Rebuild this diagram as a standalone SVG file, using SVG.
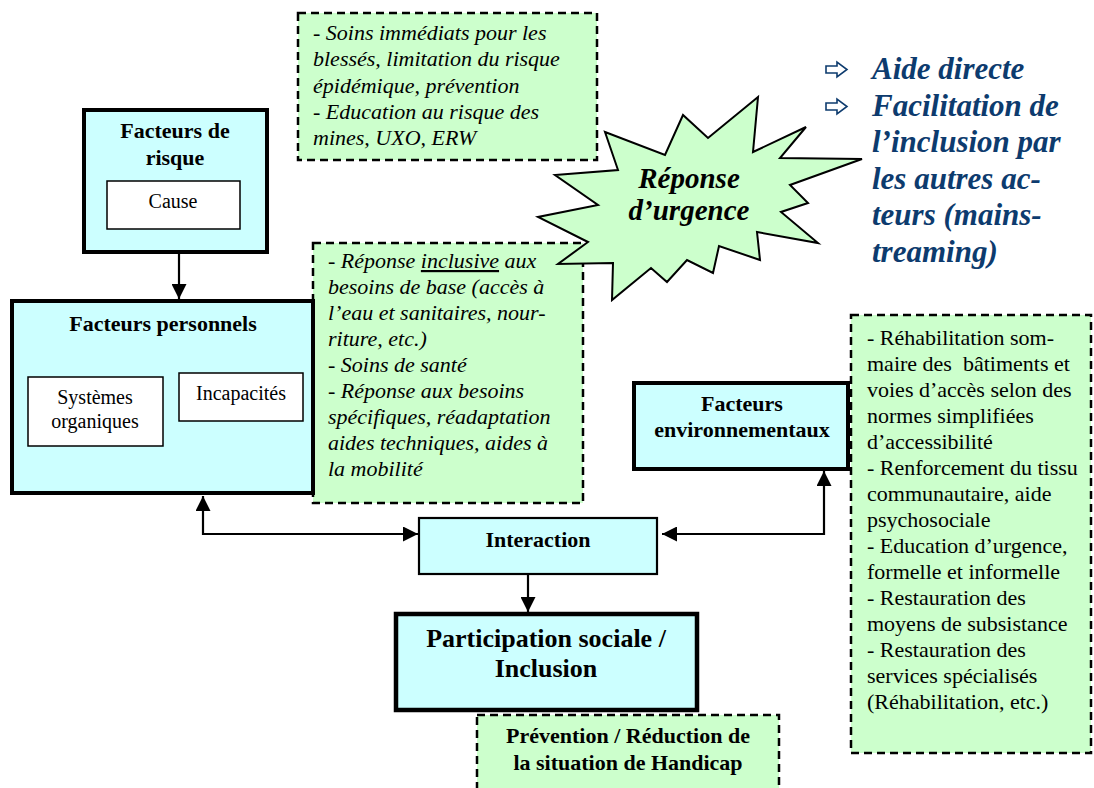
<svg xmlns="http://www.w3.org/2000/svg" width="1094" height="788" viewBox="0 0 1094 788" font-family="'Liberation Serif', Tinos, 'Times New Roman', 'DejaVu Serif', serif">
<style>
text{font-family:'Liberation Serif', Tinos, 'Times New Roman', 'DejaVu Serif', serif;fill:#000}
.b{font-weight:bold}
.i{font-style:italic}
.t22{font-size:22px}
.t20{font-size:20px}
.mid{text-anchor:middle}
.cyan{fill:#ccffff;stroke:#000}
.white{fill:#fff;stroke:#000;stroke-width:1.5}
.dash{fill:#ccffcc;stroke:#000;stroke-width:2.5;stroke-dasharray:8 5}
.con{fill:none;stroke:#000;stroke-width:2.2}
.blue{fill:#0d3b6e;font-weight:bold;font-style:italic;font-size:31px}
.arr{fill:#fff;stroke:#0d3b6e;stroke-width:1.6}
</style>
<defs>
<marker id="ah" viewBox="0 0 15 15" refX="15" refY="7.5" markerWidth="15" markerHeight="15" markerUnits="userSpaceOnUse" orient="auto-start-reverse">
<path d="M0,0 L15,7.5 L0,15 Z" fill="#000"/>
</marker>
</defs>
<rect width="1094" height="788" fill="#fff"/>

<g id="note-top">
<rect class="dash" x="298" y="13" width="299" height="147"/>
<text class="i t22" x="313" y="40">- Soins immédiats pour les</text>
<text class="i t22" x="313" y="66">blessés, limitation du risque</text>
<text class="i t22" x="313" y="93">épidémique, prévention</text>
<text class="i t22" x="313" y="119">- Education au risque des</text>
<text class="i t22" x="313" y="145">mines, UXO, ERW</text>
</g>

<g id="note-middle">
<rect class="dash" x="313" y="243" width="270" height="260"/>
<text class="i t22" x="328" y="268">- Réponse <tspan text-decoration="underline">inclusive</tspan> aux</text>
<text class="i t22" x="328" y="294">besoins de base (accès à</text>
<text class="i t22" x="328" y="320">l’eau et sanitaires, nour-</text>
<text class="i t22" x="328" y="346">riture, etc.)</text>
<text class="i t22" x="328" y="372">- Soins de santé</text>
<text class="i t22" x="328" y="398">- Réponse aux besoins</text>
<text class="i t22" x="328" y="424">spécifiques, réadaptation</text>
<text class="i t22" x="328" y="450">aides techniques, aides à</text>
<text class="i t22" x="328" y="476">la mobilité</text>
</g>

<g id="urgence">
<polygon points="605,132 665,155 683,115 708,138 758,97 753,152 806,127 780,158 862,159 790,185 808,203 781,212 818,243 757,232 760,260 719,246 713,273 687,260 667,282 651,268 612,300 613,263 558,264 588,242 538,217 598,205 555,175 618,170" fill="#ccffcc" stroke="#000" stroke-width="2" stroke-linejoin="miter"/>
<text class="b i mid" style="font-size:29px" x="689" y="188">Réponse</text>
<text class="b i mid" style="font-size:29px" x="689" y="220">d’urgence</text>
</g>

<g id="strategies">
<polygon class="arr" points="826,66 837,66 837,62 847,69.5 837,77 837,73 826,73"/>
<polygon class="arr" points="826,103 837,103 837,99 847,106.5 837,114 837,110 826,110"/>
<text class="blue" x="872" y="79">Aide directe</text>
<text class="blue" x="872" y="116">Facilitation de</text>
<text class="blue" x="872" y="152">l’inclusion par</text>
<text class="blue" x="872" y="189">les autres ac-</text>
<text class="blue" x="872" y="225">teurs (mains-</text>
<text class="blue" x="872" y="262">treaming)</text>
</g>

<g id="facteurs-risque">
<rect class="cyan" x="84" y="110" width="183" height="142" stroke-width="4"/>
<text class="b t22 mid" x="175" y="138">Facteurs de</text>
<text class="b t22 mid" x="175" y="165">risque</text>
<g id="cause">
<rect class="white" x="107" y="181" width="133" height="48"/>
<text class="t20 mid" x="173" y="208">Cause</text>
</g>
</g>

<g id="facteurs-personnels">
<rect class="cyan" x="12" y="301" width="301" height="192" stroke-width="4"/>
<text class="b t22 mid" x="163" y="331">Facteurs personnels</text>
<g id="systemes">
<rect class="white" x="28" y="377" width="135" height="69"/>
<text class="t20 mid" x="95" y="404">Systèmes</text>
<text class="t20 mid" x="95" y="428">organiques</text>
</g>
<g id="incapacites">
<rect class="white" x="179" y="373" width="124" height="48"/>
<text class="t20 mid" x="241" y="400">Incapacités</text>
</g>
</g>

<g id="facteurs-environnementaux">
<rect class="cyan" x="634" y="383" width="214" height="86" stroke-width="4"/>
<text class="b t22 mid" x="742" y="411">Facteurs</text>
<text class="b t22 mid" x="742" y="437">environnementaux</text>
</g>

<g id="note-right">
<rect class="dash" x="851" y="315" width="240" height="438"/>
<text class="t22" x="867" y="345">- Réhabilitation som-</text>
<text class="t22" x="867" y="371" style="white-space:pre">maire des  bâtiments et</text>
<text class="t22" x="867" y="397">voies d’accès selon des</text>
<text class="t22" x="867" y="423">normes simplifiées</text>
<text class="t22" x="867" y="449">d’accessibilité</text>
<text class="t22" x="867" y="475">- Renforcement du tissu</text>
<text class="t22" x="867" y="501">communautaire, aide</text>
<text class="t22" x="867" y="527">psychosociale</text>
<text class="t22" x="867" y="553">- Education d’urgence,</text>
<text class="t22" x="867" y="579">formelle et informelle</text>
<text class="t22" x="867" y="605">- Restauration des</text>
<text class="t22" x="867" y="631">moyens de subsistance</text>
<text class="t22" x="867" y="657">- Restauration des</text>
<text class="t22" x="867" y="683">services spécialisés</text>
<text class="t22" x="867" y="709">(Réhabilitation, etc.)</text>
</g>

<g id="interaction">
<rect class="cyan" x="419" y="518" width="238" height="56" stroke-width="2.2"/>
<text class="b t22 mid" x="538" y="547">Interaction</text>
</g>

<g id="participation">
<rect class="cyan" x="396" y="614" width="301" height="96" stroke-width="4.5"/>
<text class="b mid" style="font-size:26px" x="546" y="647">Participation sociale /</text>
<text class="b mid" style="font-size:26px" x="546" y="677">Inclusion</text>
</g>

<g id="prevention">
<rect class="dash" x="477" y="715" width="302" height="80"/>
<text class="b t22 mid" x="628" y="743">Prévention / Réduction de</text>
<text class="b t22 mid" x="628" y="770">la situation de Handicap</text>
</g>

<g id="connectors">
<line class="con" x1="179" y1="254" x2="179" y2="299" marker-end="url(#ah)"/>
<polyline class="con" points="203,496 203,534 418,534" marker-start="url(#ah)" marker-end="url(#ah)"/>
<polyline class="con" points="824,471 824,534 662,534" marker-start="url(#ah)" marker-end="url(#ah)"/>
<line class="con" x1="528" y1="575" x2="528" y2="612" marker-end="url(#ah)"/>
</g>
</svg>
